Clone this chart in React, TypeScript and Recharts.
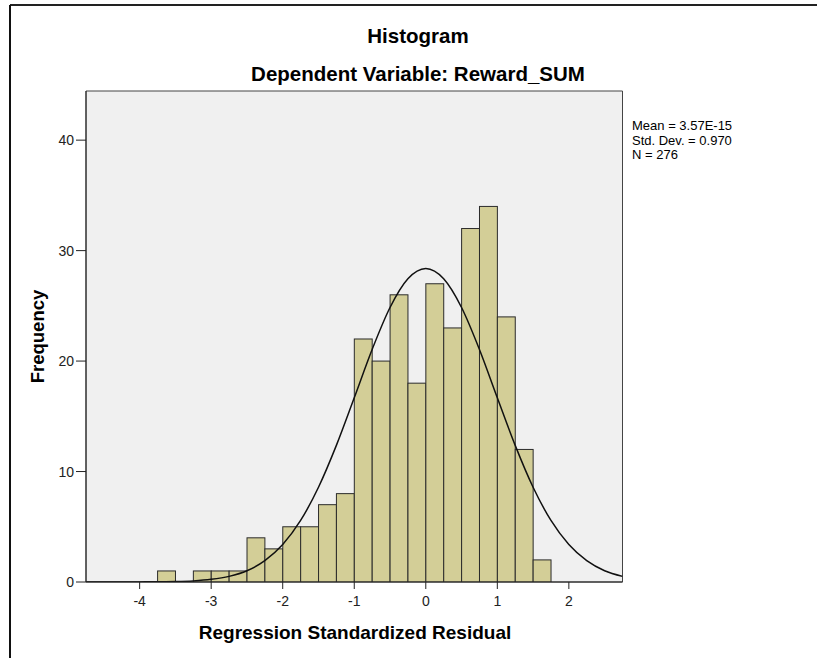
import React from "react";
import {
  ComposedChart,
  Bar,
  Line,
  XAxis,
  YAxis,
  CartesianGrid,
  ReferenceArea,
} from "recharts";

// histogram bins, 0.25 wide, keyed by their centre
const binMids = [
  -3.625, -3.375, -3.125, -2.875, -2.625, -2.375, -2.125, -1.875, -1.625,
  -1.375, -1.125, -0.875, -0.625, -0.375, -0.125, 0.125, 0.375, 0.625, 0.875,
  1.125, 1.375, 1.625,
];
const binCounts = [
  1, 0, 1, 1, 1, 4, 3, 5, 5, 7, 8, 22, 20, 26, 18, 27, 23, 32, 34, 24, 12, 2,
];

// fitted normal curve
const curveX = [
  -4.75, -4.5, -4.25, -4, -3.75, -3.5, -3.25, -3, -2.75, -2.5, -2.25, -2, -1.75,
  -1.5, -1.25, -1, -0.75, -0.5, -0.25, 0, 0.25, 0.5, 0.75, 1, 1.25, 1.5, 1.75,
  2, 2.25, 2.5, 2.75,
];
const curveY = [
  0, 0, 0, 0.01, 0.02, 0.04, 0.1, 0.24, 0.51, 1.02, 1.93, 3.39, 5.57, 8.58,
  12.37, 16.68, 21.05, 24.85, 27.45, 28.38, 27.45, 24.85, 21.05, 16.68, 12.37,
  8.58, 5.57, 3.39, 1.93, 1.02, 0.51,
];

const xTicks = [-4, -3, -2, -1, 0, 1, 2];
const yTicks = [0, 10, 20, 30, 40];
const statLines = ["Mean = 3.57E-15", "Std. Dev. = 0.970", "N = 276"];

const W = 817;
const H = 658;
const X_MIN = -4.75;
const X_MAX = 2.75;
const Y_MAX = 44.45;
const BIN_WIDTH = 0.25;
const Y_AXIS_W = 60;
const MARGIN = { top: 91, right: 194.5, bottom: 46, left: 26 };
const PLOT_W = W - MARGIN.left - Y_AXIS_W - MARGIN.right;
const binPx = (PLOT_W * BIN_WIDTH) / (X_MAX - X_MIN);

const FONT = "'Liberation Sans', Arial, sans-serif";

const bins = binMids.map((mid, i) => ({ mid, count: binCounts[i] }));
const curve = curveX.map((x, i) => ({ x, y: curveY[i] }));

// bars fill the whole bin, centred on the scale position
const HistBar = (props: any) => {
  const { x, y, width, height } = props;
  if (!height || height <= 0) return null;
  const cx = x + width / 2;
  return (
    <rect
      x={cx - binPx / 2}
      y={y}
      width={binPx}
      height={height}
      fill="#D3CE97"
      stroke="#2b2b2b"
      strokeWidth={1}
    />
  );
};

const tickStyle = { fill: "#222", fontSize: 14, fontFamily: FONT };

export default function App() {
  return (
    <div
      style={{
        position: "absolute",
        left: 0,
        top: 0,
        width: W,
        height: H,
        overflow: "hidden",
        background: "#fff",
      }}
    >
      <ComposedChart
        width={W}
        height={H}
        data={bins}
        margin={MARGIN}
        barCategoryGap={0}
        barGap={0}
      >
        <CartesianGrid
          horizontal={false}
          vertical={false}
          fill="#F0F0F0"
          stroke="none"
        />
        <XAxis
          dataKey="mid"
          type="number"
          domain={[X_MIN, X_MAX]}
          allowDataOverflow
          ticks={xTicks}
          interval={0}
          height={30}
          tickSize={7}
          tickMargin={7}
          stroke="#222"
          tick={tickStyle}
        />
        <XAxis
          xAxisId="curve"
          dataKey="x"
          type="number"
          domain={[X_MIN, X_MAX]}
          allowDataOverflow
          hide
        />
        <YAxis
          type="number"
          domain={[0, Y_MAX]}
          allowDataOverflow
          ticks={yTicks}
          interval={0}
          width={Y_AXIS_W}
          tickSize={10}
          tickMargin={2}
          stroke="#222"
          tick={tickStyle}
        />
        <Bar
          dataKey="count"
          shape={HistBar}
          isAnimationActive={false}
        />
        <Line
          xAxisId="curve"
          data={curve}
          dataKey="y"
          type="monotone"
          dot={false}
          activeDot={false}
          stroke="#111"
          strokeWidth={1.5}
          isAnimationActive={false}
        />
        <ReferenceArea
          x1={X_MIN}
          x2={X_MAX}
          y1={0}
          y2={Y_MAX}
          fill="none"
          stroke="#444"
          strokeWidth={1}
        />
      </ComposedChart>

      <svg
        width={W}
        height={H}
        style={{ position: "absolute", left: 0, top: 0, pointerEvents: "none" }}
      >
        {/* outer frame */}
        <line x1={10} y1={5} x2={W} y2={5} stroke="#222" strokeWidth={2} />
        <line x1={10} y1={5} x2={10} y2={H} stroke="#111" strokeWidth={2} />

        <text
          x={418}
          y={43}
          textAnchor="middle"
          fontFamily={FONT}
          fontWeight="bold"
          fontSize={20.5}
          fill="#000"
        >
          Histogram
        </text>
        <text
          x={418}
          y={81}
          textAnchor="middle"
          fontFamily={FONT}
          fontWeight="bold"
          fontSize={20.5}
          fill="#000"
        >
          Dependent Variable: Reward_SUM
        </text>
        <text
          x={355}
          y={639}
          textAnchor="middle"
          fontFamily={FONT}
          fontWeight="bold"
          fontSize={19}
          fill="#000"
        >
          Regression Standardized Residual
        </text>
        <text
          x={44}
          y={336.5}
          textAnchor="middle"
          transform="rotate(-90, 44, 336.5)"
          fontFamily={FONT}
          fontWeight="bold"
          fontSize={18.5}
          fill="#000"
        >
          Frequency
        </text>
        {statLines.map((s, i) => (
          <text
            key={s}
            x={632}
            y={130 + i * 14.6}
            fontFamily={FONT}
            fontSize={13}
            fill="#000"
          >
            {s}
          </text>
        ))}
      </svg>
    </div>
  );
}
